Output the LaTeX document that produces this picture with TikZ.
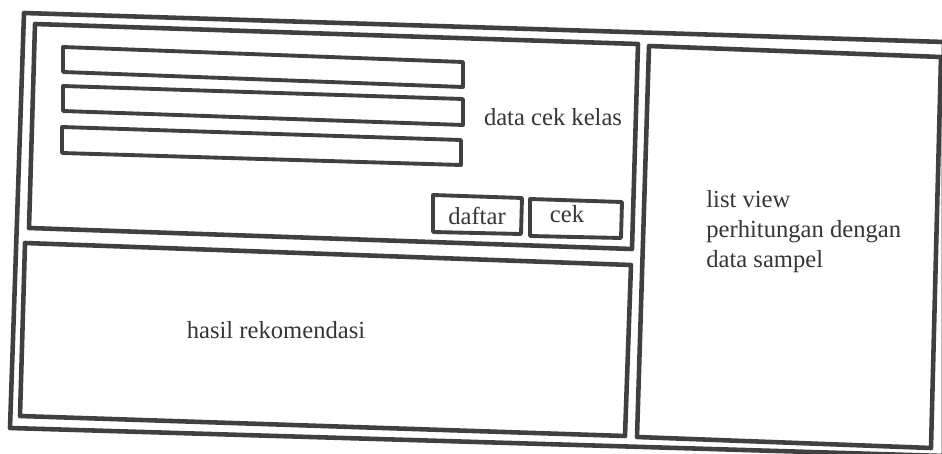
\documentclass[tikz,border=0pt]{standalone}
\usepackage{fontspec}
\setmainfont{Liberation Serif}
\definecolor{wire}{HTML}{404040}

\begin{document}
\begin{tikzpicture}[x=0.2mm, y=-0.2mm,
        frame/.style={draw=wire, line width=2.6pt, line join=round},
        field/.style={draw=wire, line width=2.2pt, line join=round},
        label/.style={text=wire!85!black, font=\fontsize{14}{17}\selectfont, inner sep=0pt}]
                \useasboundingbox (0,0) rectangle (942,454);
                \fill[white] (0,0) rectangle (942,454);

                % outer frame
                \draw[frame] (24,13) -- (944,42) -- (944,456) -- (10,428) -- cycle;

                % form panel
                \draw[frame] (35,24) -- (638,44) -- (632,249) -- (29,228) -- cycle;
                \draw[field] (63,47) -- (463,62) -- (463,87) -- (63,72) -- cycle;
                \draw[field] (63,86) -- (463,99) -- (463,125) -- (63,111) -- cycle;
                \draw[field] (62,127) -- (461,140) -- (461,165) -- (62,153) -- cycle;
                \node[label] (data cek kelas) at (553,117) {data cek kelas};

                % buttons
                \draw[field] (433,195) -- (522,198) -- (521,234) -- (433,232) -- cycle;
                \draw[field] (530,199) -- (622,202) -- (621,238) -- (530,236) -- cycle;
                \node[label] (daftar) at (477,216) {daftar};
                \node[label] (cek) at (567,214) {cek};

                % result panel
                \draw[frame] (25,243) -- (631,265) -- (625,436) -- (20,416) -- cycle;
                \node[label] (hasil rekomendasi) at (276,330) {hasil rekomendasi};

                % list panel
                \draw[frame] (649,46) -- (941,57) -- (931,448) -- (637,437) -- cycle;
                \node[label, align=left, anchor=north west] (list view) at (706,190)
                        {list view\\perhitungan dengan\\data sampel};

            \end{tikzpicture}
\end{document}
